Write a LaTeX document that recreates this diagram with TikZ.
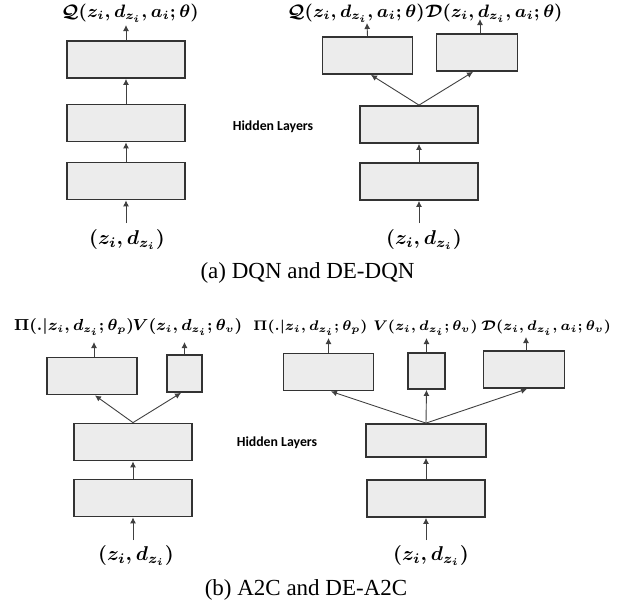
\documentclass[tikz,border=0pt]{standalone}
\usepackage{amsmath}
\usepackage{fontspec}
\setmainfont{Liberation Serif}
\newfontfamily\hlfont{Carlito}
\usetikzlibrary{arrows.meta}
\tikzset{
  layer/.style={draw=black!80, fill=gray!15, line width=0.9pt, inner sep=0pt},
  wide/.style={layer, minimum width=59pt, minimum height=18.5pt},
  mid/.style={layer, minimum width=45pt, minimum height=18.5pt},
  narrow/.style={layer, minimum width=40.5pt, minimum height=18.5pt},
  tiny/.style={layer, minimum width=17.5pt, minimum height=18.5pt},
  conn/.style={-{Latex[length=3pt,width=3pt]}, line width=0.45pt, draw=black!75},
  lab/.style={inner sep=0pt, font=\fontsize{9}{11}\selectfont\boldmath},
  labb/.style={inner sep=0pt, font=\fontsize{7.8}{10}\selectfont\boldmath},
  labc/.style={inner sep=0pt, font=\fontsize{7.5}{10}\selectfont\boldmath},
  inlab/.style={inner sep=0pt, font=\fontsize{10}{12}\selectfont\boldmath},
  hid/.style={inner sep=0pt, font=\hlfont\bfseries\fontsize{6.9}{8}\selectfont},
  captext/.style={inner sep=0pt, font=\fontsize{11.5}{13}\selectfont}
}
\begin{document}
\begin{tikzpicture}[x=0.5pt,y=-0.5pt]
\useasboundingbox (0,0) rectangle (628,607);
% ---------- (a) left: DQN ----------
\node[lab] (qa) at (130,13) {$\mathcal{Q}(z_i, d_{z_i}, a_i; \theta)$};
\node[wide] (a1) at (126,59.5) {};
\node[wide] (a2) at (126,123) {};
\node[wide] (a3) at (126,181) {};
\node[inlab] (ia) at (127,239) {$(z_i, d_{z_i})$};
\coordinate (ta) at (126,25);
\coordinate (sa) at (126,223);
\draw[conn] (sa) -- (a3.south);
\draw[conn] (a3.north) -- (a2.south);
\draw[conn] (a2.north) -- (a1.south);
\draw[conn] (a1.north) -- (ta);
% ---------- (a) right: DE-DQN ----------
\node[lab] (qb) at (356,13) {$\mathcal{Q}(z_i, d_{z_i}, a_i; \theta)$};
\node[lab] (db) at (494,13) {$\mathcal{D}(z_i, d_{z_i}, a_i; \theta)$};
\node[mid] (b1) at (367.5,55.5) {};
\node[narrow] (b2) at (477,52.5) {};
\node[wide] (b3) at (419,124.5) {};
\node[wide] (b4) at (419,181.5) {};
\node[inlab] (ib) at (424,239) {$(z_i, d_{z_i})$};
\coordinate (tb1) at (367,23);
\coordinate (tb2) at (480,19);
\coordinate (sb) at (419,223);
\draw[conn] (sb) -- (b4.south);
\draw[conn] (b4.north) -- (b3.south);
\draw[conn] (b3.north) -- ([xshift=1.75pt]b1.south);
\draw[conn] (b3.north) -- ([xshift=-2pt]b2.south);
\draw[conn] (b1.north) -- (tb1);
\draw[conn] ([xshift=1.5pt]b2.north) -- (tb2);
\node[hid] (hla) at (273,127) {Hidden Layers};
\node[captext] (capa) at (307.5,273) {(a) DQN and DE-DQN};
% ---------- (b) left: A2C ----------
\node[labb] (pc) at (74,327) {$\Pi(.|z_i, d_{z_i}; \theta_p)$};
\node[labb] (vc) at (187.5,327) {$V(z_i, d_{z_i}; \theta_v)$};
\node[mid] (c1) at (92,376) {};
\node[tiny] (c2) at (184.5,373.5) {};
\node[wide] (c3) at (133,442) {};
\node[wide] (c4) at (133,498) {};
\node[inlab] (ic) at (136,555) {$(z_i, d_{z_i})$};
\coordinate (tc1) at (94,342);
\coordinate (tc2) at (184.5,342);
\coordinate (sc) at (133,540);
\draw[conn] (sc) -- (c4.south);
\draw[conn] (c4.north) -- (c3.south);
\draw[conn] (c3.north) -- ([xshift=1.5pt]c1.south);
\draw[conn] (c3.north) -- ([xshift=-1.75pt]c2.south);
\draw[conn] ([xshift=1pt]c1.north) -- (tc1);
\draw[conn] (c2.north) -- (tc2);
% ---------- (b) right: DE-A2C ----------
\node[labc] (pd) at (310.5,328) {$\Pi(.|z_i, d_{z_i}; \theta_p)$};
\node[labc, anchor=east] (vd) at (478,328) {$V(z_i, d_{z_i}; \theta_v)$};
\node[labc, anchor=west] (dd) at (481,328) {$\mathcal{D}(z_i, d_{z_i}, a_i; \theta_v)$};
\node[mid] (d1) at (328.5,372) {};
\node[layer, minimum width=18.5pt, minimum height=18pt] (d2) at (426.5,371) {};
\node[narrow] (d3) at (524,369.5) {};
\node[layer, minimum width=60pt, minimum height=16.5pt] (d4) at (426,440.5) {};
\node[wide] (d5) at (426,498.5) {};
\node[inlab] (id) at (431,555) {$(z_i, d_{z_i})$};
\coordinate (td1) at (328.5,338);
\coordinate (td2) at (426.5,338);
\coordinate (td3) at (526,337);
\coordinate (sd) at (426,540);
\draw[conn] (sd) -- (d5.south);
\draw[conn] (d5.north) -- (d4.south);
\draw[conn] (d4.north) -- ([xshift=1.25pt]d1.south);
\draw[conn] (d4.north) -- (d2.south);
\draw[conn] (d4.north) -- ([xshift=1.5pt]d3.south);
\draw[conn] (d1.north) -- (td1);
\draw[conn] (d2.north) -- (td2);
\draw[conn] ([xshift=1pt]d3.north) -- (td3);
\node[hid] (hlb) at (277,443) {Hidden Layers};
\node[captext] (capb) at (306,590) {(b) A2C and DE-A2C};
\end{tikzpicture}
\end{document}
